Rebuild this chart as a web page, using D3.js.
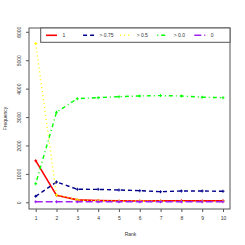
<!DOCTYPE html>
<html lang="en">
<head>
<meta charset="UTF-8">
<title>Frequency by rank</title>
<script src="https://d3js.org/d3.v7.min.js"></script>
<style>
  body { margin: 0; background: #fff; }
  svg { display: block; font-family: "Liberation Sans", Arial, sans-serif; }
</style>
</head>
<body>
<div id="chart"></div>
<script>
// data
var ranks = [1, 2, 3, 4, 5, 6, 7, 8, 9, 10]
var seriesNames = ["1", "> 0.75", "> 0.5", "> 0.0", "0"]
var exact1 = [1465, 246, 85, 65, 50, 45, 50, 55, 50, 55]
var over075 = [211, 715, 458, 455, 433, 410, 373, 398, 398, 387]
var over05 = [5585, 260, 80, 50, 40, 35, 35, 30, 30, 30]
var over00 = [650, 3170, 3648, 3683, 3718, 3743, 3754, 3743, 3697, 3683]
var zero = [20, 20, 20, 20, 20, 20, 20, 20, 20, 20]
var yTicks = [0, 1000, 2000, 3000, 4000, 5000, 6000]

var colors = ["#ff0000", "#00008b", "#ffff00", "#00ff00", "#a020f0"]
var dashes = [null, "4,3", "1,3", "1,3,4,3", "7,3"]
var allSeries = [exact1, over075, over05, over00, zero]

var w = 245, h = 245
// plot box edges (window.top is reserved, so use a prefix)
var boxL = 29, boxR = 230, boxT = 28, boxB = 209

var svg = d3.select("#chart").append("svg").attr("width", w).attr("height", h)

var x = d3.scaleLinear().domain([1, 10]).range([35.7, 223])
var y = d3.scaleLinear().domain([0, 6000]).range([202.3, 31.8])

// box
svg.append("rect")
  .attr("x", boxL).attr("y", boxT)
  .attr("width", boxR - boxL).attr("height", boxB - boxT)
  .attr("fill", "none").attr("stroke", "#555").attr("stroke-width", 1)

// axes
var xAxis = svg.append("g").attr("transform", "translate(0," + boxB + ")")
  .call(d3.axisBottom(x).tickValues(ranks).tickSize(3).tickPadding(4).tickFormat(d3.format("d")))
var yAxis = svg.append("g").attr("transform", "translate(" + boxL + ",0)")
  .call(d3.axisLeft(y).tickValues(yTicks).tickSize(3).tickFormat(d3.format("d")))

xAxis.select(".domain").remove()
yAxis.select(".domain").remove()
svg.selectAll(".tick line").attr("stroke", "#555")
xAxis.selectAll("text").attr("font-size", 5).attr("fill", "#333")
yAxis.selectAll(".tick text")
  .attr("font-size", 5).attr("fill", "#333")
  .attr("text-anchor", "middle")
  .attr("x", 0).attr("y", 0).attr("dy", "0")
  .attr("transform", "translate(-8,0) rotate(-90)")

svg.append("text").attr("x", (boxL + boxR) / 2 + 1).attr("y", 236)
  .attr("text-anchor", "middle").attr("font-size", 5).attr("fill", "#333").text("Rank")
svg.append("text")
  .attr("transform", "translate(7," + ((boxT + boxB) / 2) + ") rotate(-90)")
  .attr("text-anchor", "middle").attr("font-size", 5).attr("fill", "#333").text("Frequency")

// lines
var line = d3.line()
  .x(function(d, i) { return x(ranks[i]) })
  .y(function(d) { return y(d) })

allSeries.forEach(function(vals, k) {
  svg.append("path")
    .datum(vals)
    .attr("d", line)
    .attr("fill", "none")
    .attr("stroke", colors[k])
    .attr("stroke-width", k == 0 ? 1.6 : 1.4)
    .attr("stroke-dasharray", dashes[k])

  svg.selectAll(".pt" + k)
    .data(vals)
    .enter()
    .append("path")
    .attr("class", "pt" + k)
    .attr("transform", function(d, i) { return "translate(" + x(ranks[i]) + "," + y(d) + ")" })
    .attr("d", d3.symbol().type(d3.symbolCross).size(5))
    .attr("fill", colors[k])
})

// legend
var legend = svg.append("g")
legend.append("rect")
  .attr("x", 40.7).attr("y", boxT)
  .attr("width", boxR - 40.7).attr("height", 14.3)
  .attr("fill", "#fff").attr("stroke", "#555").attr("stroke-width", 1)

var lx = d3.scaleLinear().domain([0, 4]).range([46, 194.3])

seriesNames.forEach(function(name, k) {
  legend.append("line")
    .attr("x1", lx(k)).attr("x2", lx(k) + 11)
    .attr("y1", 35.3).attr("y2", 35.3)
    .attr("stroke", colors[k])
    .attr("stroke-width", k == 0 ? 1.6 : 1.4)
    .attr("stroke-dasharray", dashes[k])
  legend.append("text")
    .attr("x", lx(k) + 16.5).attr("y", 37)
    .attr("font-size", 5).attr("fill", "#333")
    .text(name)
})
</script>
</body>
</html>
